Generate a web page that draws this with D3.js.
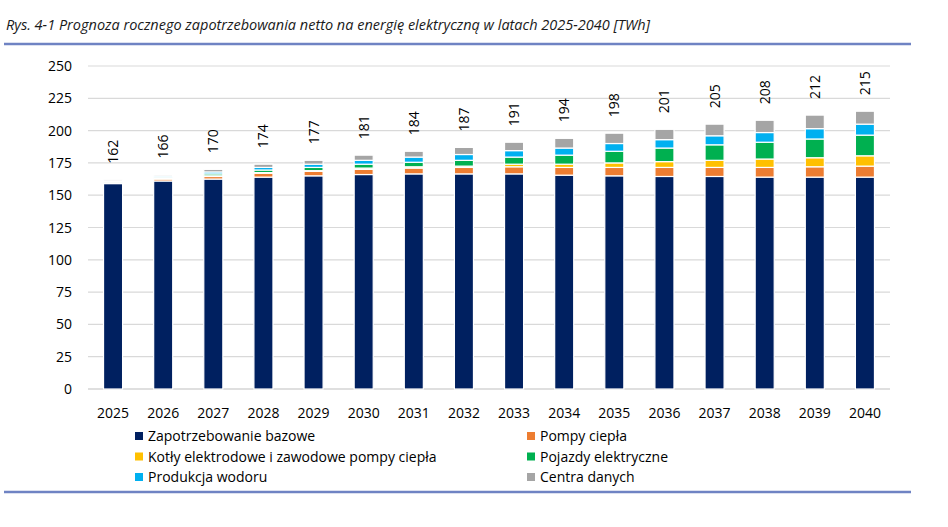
<!DOCTYPE html>
<html><head><meta charset="utf-8">
<script src="https://cdn.jsdelivr.net/npm/d3@7"></script>
<style>body{margin:0;background:#fff;font-family:"Open Sans",sans-serif;}</style>
</head><body><svg id="c" width="948" height="527"></svg>
<script>
const years = ["2025","2026","2027","2028","2029","2030","2031","2032","2033","2034","2035","2036","2037","2038","2039","2040"];
const totals = [162,166,170,174,177,181,184,187,191,194,198,201,205,208,212,215];
const bazowe = [159,161,162.5,164,165,166,166.5,166.5,166.5,165.5,165,164.5,164.5,164,164,164];
const pompy = [1,1.5,2,3,3.5,4,4.5,5,5.5,6,6.5,7,7,7.5,8,8.5];
const kotly = [0,0.5,0.5,0.5,0.5,1,1,1,2,2.5,3.5,4.5,5.5,6.5,7,8];
const pojazdy = [0.5,1,1.5,2,2.5,3,3.5,4.5,5.5,7,9,10.5,12,13,14.5,16];
const wodor = [0.5,1,1.5,2,2.5,3,4,4.5,5,5.5,6,6.5,7,7.5,8,8.5];
const centra = [1,1,2,2.5,3,4,4.5,5.5,6.5,7.5,8,8,9,9.5,10.5,10];
const seriesNames = ["Zapotrzebowanie bazowe","Pompy ciepła","Kotły elektrodowe i zawodowe pompy ciepła","Pojazdy elektryczne","Produkcja wodoru","Centra danych"];
const colors = ["#002060","#ed7d31","#ffc000","#00b050","#00b0f0","#a5a5a5"];
const yTicks = d3.range(0, 251, 25);

const svg = d3.select("#c");
const cols = [bazowe, pompy, kotly, pojazdy, wodor, centra];
const rows = years.map((y, i) => { const o = {year: y}; cols.forEach((c, k) => o[k] = c[i]); return o; });
const stack = d3.stack().keys([0,1,2,3,4,5])(rows);

const x = d3.scaleBand().domain(years).range([88, 890]).paddingInner(0.62).paddingOuter(0.31);
const y = d3.scaleLinear().domain([0, 250]).range([389, 66]);

svg.append("text").attr("x", 6).attr("y", 30).attr("font-style", "italic").attr("font-size", 14.5)
  .attr("fill", "#1a1a1a").text("Rys. 4-1 Prognoza rocznego zapotrzebowania netto na energię elektryczną w latach 2025-2040 [TWh]");
svg.append("line").attr("x1", 4).attr("x2", 911).attr("y1", 44).attr("y2", 44).attr("stroke", "#6f83c3").attr("stroke-width", 2.5);
svg.append("line").attr("x1", 4).attr("x2", 911).attr("y1", 492).attr("y2", 492).attr("stroke", "#6f83c3").attr("stroke-width", 2.5);

svg.append("g").selectAll("line").data(yTicks.slice(1)).join("line")
  .attr("x1", 88).attr("x2", 890).attr("y1", d => y(d)).attr("y2", d => y(d))
  .attr("stroke", "#d9d9d9").attr("stroke-width", 1.2);
svg.append("line").attr("x1", 88).attr("x2", 890).attr("y1", y(0)).attr("y2", y(0)).attr("stroke", "#bfbfbf");

svg.append("g").selectAll("text").data(yTicks).join("text")
  .attr("x", 72).attr("y", d => y(d) + 5).attr("text-anchor", "end").attr("font-size", 14).attr("fill", "#000").text(d => d);
svg.append("g").selectAll("text").data(years).join("text")
  .attr("x", d => x(d) + x.bandwidth() / 2).attr("y", 418).attr("text-anchor", "middle").attr("font-size", 14).text(d => d);

svg.append("g").selectAll("g").data(stack).join("g").attr("fill", (d, i) => colors[i])
  .selectAll("rect").data(d => d).join("rect")
  .attr("x", d => x(d.data.year)).attr("width", x.bandwidth())
  .attr("y", d => y(d[1])).attr("height", d => Math.max(0, y(d[0]) - y(d[1])))
  .attr("stroke", "#fff").attr("stroke-width", 1.2);

svg.append("g").selectAll("text").data(years).join("text")
  .attr("transform", (d, i) => `translate(${x(d) + x.bandwidth() / 2 + 5},${y(totals[i]) - 16}) rotate(-90)`)
  .attr("font-size", 14).text((d, i) => totals[i]);

const lg = svg.append("g");
seriesNames.forEach((n, i) => {
  const lx = i % 2 === 0 ? 135 : 527, ly = 436 + Math.floor(i / 2) * 20.5;
  lg.append("rect").attr("x", lx).attr("y", ly - 4).attr("width", 8).attr("height", 8).attr("fill", colors[i]);
  lg.append("text").attr("x", lx + 13).attr("y", ly + 5).attr("font-size", 14).text(n);
});
</script></body></html>
